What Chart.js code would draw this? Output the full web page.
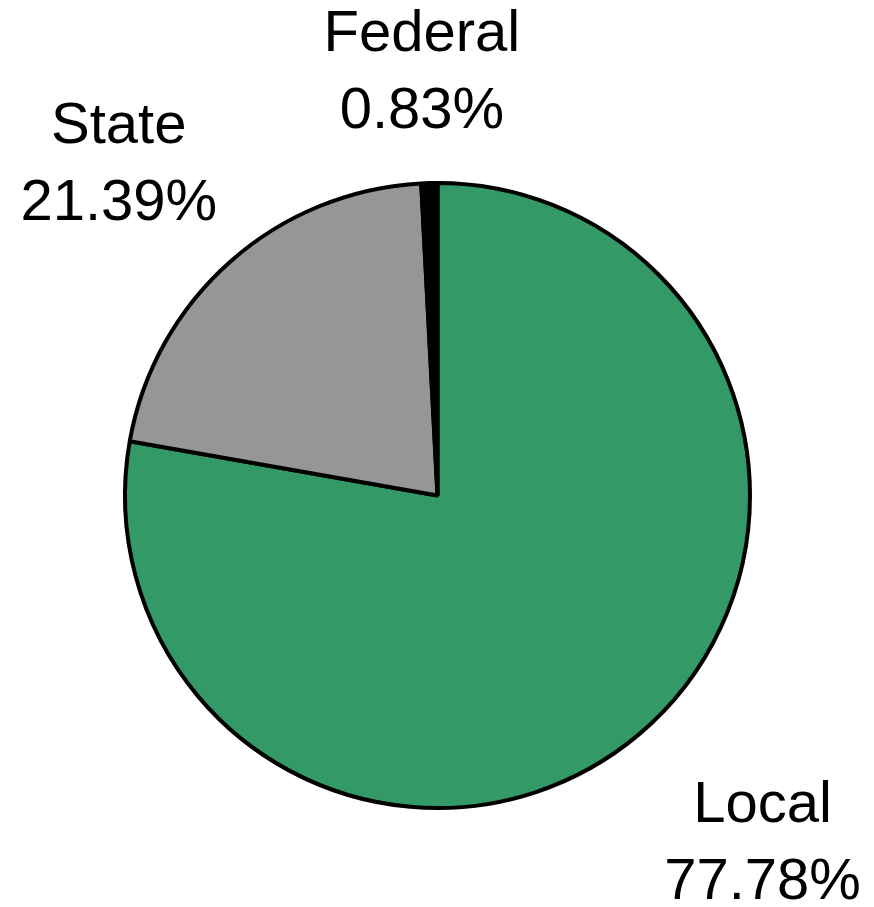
<!DOCTYPE html>
<html>
<head>
<meta charset="utf-8">
<style>
  html, body { margin: 0; padding: 0; background: #fff; }
  #wrap { width: 874px; height: 907px; position: relative; }
</style>
<script src="https://cdn.jsdelivr.net/npm/chart.js@4.4.0/dist/chart.umd.min.js"></script>
</head>
<body>
<div id="wrap"><canvas id="fundChart"></canvas></div>
<script>
// Data
const categories = ['Local', 'State', 'Federal'];
const shares = [77.78, 21.39, 0.83];
const sliceColors = ['#339966', '#969696', '#000000'];

// label anchors, relative to the pie centre in units of radius (x, y of first line centre)
const labelOffsets = [
    [1.04, 0.995],
    [-1.02, -1.18],
    [-0.05, -1.475]
];

const sliceLabels = {
    id: 'sliceLabels',
    afterDatasetsDraw(chart) {
        const ctx = chart.ctx;
        const arc = chart.getDatasetMeta(0).data[0];
        const cx = arc.x, cy = arc.y, r = arc.outerRadius;
        ctx.save();
        ctx.fillStyle = '#000';
        ctx.font = '58px "Liberation Sans", Arial, sans-serif';
        ctx.textAlign = 'center';
        ctx.textBaseline = 'middle';
        categories.forEach(function (name, i) {
            const x = cx + labelOffsets[i][0] * r;
            const y = cy + labelOffsets[i][1] * r;
            ctx.fillText(name, x, y);
            ctx.fillText(shares[i].toFixed(2) + '%', x, y + 77);
        });
        ctx.restore();
    }
};

document.addEventListener('DOMContentLoaded', function () {
    const ctx = document.getElementById('fundChart').getContext('2d');
    new Chart(ctx, {
        type: 'pie',
        data: {
            labels: categories,
            datasets: [{
                data: shares,
                backgroundColor: sliceColors,
                borderColor: '#000000',
                borderWidth: 4
            }]
        },
        options: {
            responsive: true,
            maintainAspectRatio: false,
            animation: false,
            layout: {
                padding: { left: 123, right: 122, top: 181, bottom: 97 }
            },
            plugins: {
                legend: { display: false },
                tooltip: { enabled: false }
            }
        },
        plugins: [sliceLabels]
    });
});
</script>
</body>
</html>
